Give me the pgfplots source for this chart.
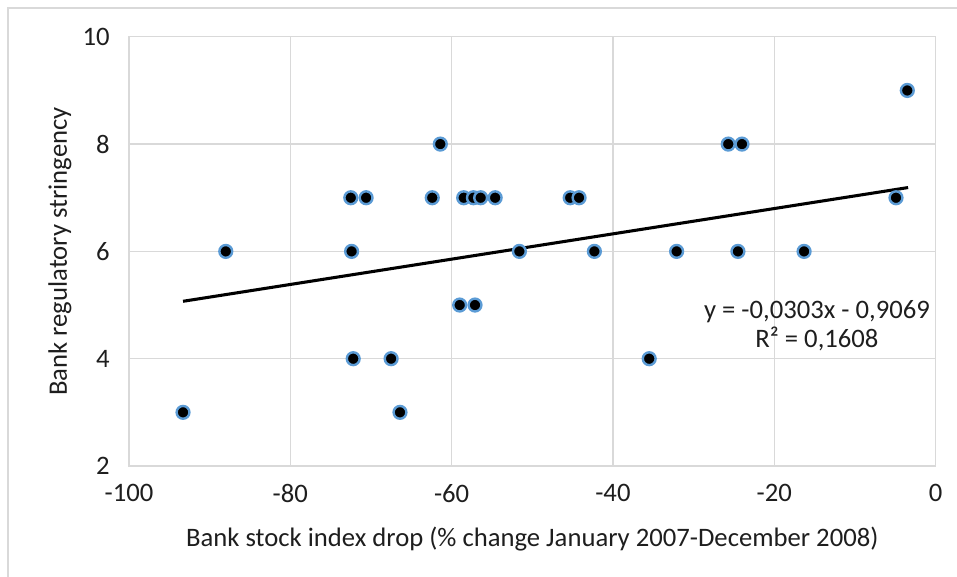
\documentclass[border=0pt]{standalone}
\usepackage{pgfplots}
\pgfplotsset{compat=1.18}
\usepackage{fontspec}
\setmainfont{Carlito}
\definecolor{gridgray}{RGB}{217,217,217}
\definecolor{markblue}{RGB}{91,155,213}
\definecolor{txt}{RGB}{30,30,30}
\begin{document}
\begin{tikzpicture}
\useasboundingbox (-96.75pt,-83.25pt) rectangle (621pt,349.5pt);
\draw[gridgray, line width=1.2pt] (-90.75pt,-83.25pt) -- (-90.75pt,343.5pt) -- (621pt,343.5pt);
\begin{axis}[
    scale only axis,
    width=604.9pt,
    height=321.9pt,
    at={(0,0)}, anchor=south west,
    xmin=-100, xmax=0,
    ymin=2, ymax=10,
    xtick={-100,-80,...,0},
    ytick={2,4,...,10},
    grid=major,
    major grid style={gridgray, line width=0.9pt},
    axis line style={gridgray, line width=0.9pt},
    tick style={draw=none},
    font=\fontsize{20}{24}\selectfont,
    tick label style={text=txt},
    xticklabel shift=10pt,
    yticklabel shift=11pt,
    /pgf/number format/assume math mode=true,
    xlabel={Bank stock index drop (\% change January 2007-December 2008)},
    ylabel={Bank regulatory stringency},
    xlabel style={at={(axis description cs:0.5,0)}, anchor=north, yshift=-42pt},
    ylabel style={at={([xshift=-51.75pt]axis description cs:0,0.5)}, anchor=center},
    label style={text=txt},
    clip=false
]
% data points
\addplot[only marks, mark=*, mark size=4.8pt,
    mark options={fill=black, draw=markblue, line width=1.8pt}] coordinates {
    (-93.3,3) (-88.0,6) (-72.5,7) (-72.4,6) (-72.2,4) (-70.6,7)
    (-67.5,4) (-66.4,3) (-62.4,7) (-61.4,8) (-59.0,5) (-58.5,7)
    (-57.3,7) (-57.1,5) (-56.4,7) (-54.6,7) (-51.6,6) (-45.3,7)
    (-44.2,7) (-42.3,6) (-35.5,4) (-32.1,6) (-25.7,8) (-24.5,6)
    (-24.0,8) (-16.3,6) (-4.9,7) (-3.5,9)
};
% linear trend line
\addplot[black, line width=2.3pt] coordinates {
    (-93.3,5.07) (-3.4,7.19)
};
\node[text=txt, font=\fontsize{20}{22}\selectfont, align=center] at (axis cs:-14.7,4.62)
    {y = -0,0303x - 0,9069\\R² = 0,1608};
\end{axis}
\end{tikzpicture}
\end{document}
